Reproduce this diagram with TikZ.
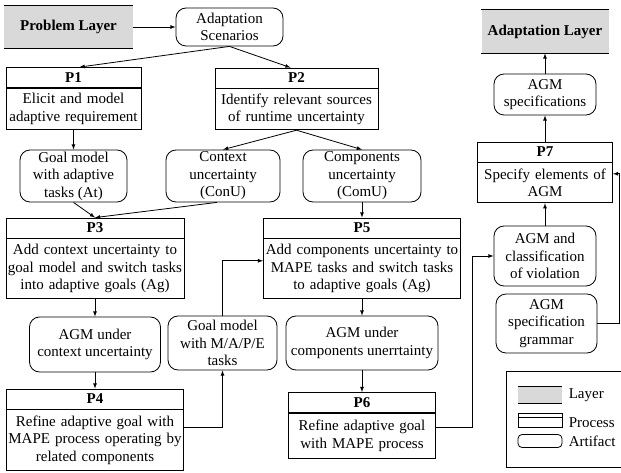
\documentclass[tikz,border=0pt]{standalone}
\usepackage{fontspec}
\setmainfont{Liberation Serif}
\usepackage{tikz}
\usetikzlibrary{positioning}

\newcommand{\diagfont}{\fontsize{15}{17.5}\selectfont}

\begin{document}
\begin{tikzpicture}[>=latex, line width=0.8pt, x=1pt, y=-1pt, font=\diagfont,
        layer/.style={fill=black!15, minimum width=#1, minimum height=42pt, inner sep=0pt,
            font=\diagfont\bfseries,
            append after command={(\tikzlastnode.north west) edge (\tikzlastnode.north east)
                (\tikzlastnode.south west) edge (\tikzlastnode.south east)}},
        artifact/.style 2 args={draw, rounded corners=10pt, minimum width=#1, minimum height=#2,
            align=center, inner sep=0pt},
        head/.style={draw, minimum width=#1, minimum height=20pt, inner sep=0pt, font=\diagfont\bfseries},
        body/.style 2 args={draw, text width=#1, minimum height=#2, align=center, inner sep=0pt},
        keytext/.style={inner sep=0pt, right=6pt of #1}]
        \useasboundingbox (0, 0) rectangle (621, 473);

        % problem layer
        \node[layer=129pt] (problem) at (68.5, 27) {Problem Layer};
        \node[artifact={107pt}{38pt}] (scen) at (229.5, 27) {Adaptation\\Scenarios};
        \node[head=135pt] (p1) at (73.5, 77.5) {P1};
        \node[body={135pt}{41pt}, below=0pt of p1] (p1b) {Elicit and model\\adaptive requirement};
        \node[head=163pt] (p2) at (296.5, 78) {P2};
        \node[body={163pt}{41pt}, below=0pt of p2] (p2b) {Identify relevant sources\\of runtime uncertainty};
        \node[artifact={107pt}{52pt}] (gmat) at (73.5, 176) {Goal model\\with adaptive\\tasks (At)};
        \node[artifact={114pt}{52pt}] (conu) at (223, 176) {Context\\uncertainty\\(ConU)};
        \node[artifact={118pt}{52pt}] (comu) at (362, 176) {Components\\uncertainty\\(ComU)};
        \node[head=178pt] (p3) at (95, 228) {P3};
        \node[body={178pt}{60pt}, below=0pt of p3] (p3b) {Add context uncertainty to\\goal model and switch tasks\\into adaptive goals (Ag)};
        \node[head=197pt] (p5) at (362, 228) {P5};
        \node[body={197pt}{60pt}, below=0pt of p5] (p5b) {Add components uncertainty to\\MAPE tasks and switch tasks\\to adaptive goals (Ag)};
        \node[artifact={131pt}{55pt}] (agmcon) at (95, 344.5) {AGM under\\context uncertainty};
        \node[artifact={109pt}{54pt}] (gmmape) at (222.5, 343) {Goal model\\with M/A/P/E\\tasks};
        \node[artifact={152pt}{54pt}] (agmcom) at (362, 343) {AGM under\\components unerrtainty};
        \node[head=177pt] (p4) at (95, 399) {P4};
        \node[body={177pt}{61pt}, below=0pt of p4] (p4b) {Refine adaptive goal with\\MAPE process operating by\\related components};
        \node[head=147pt] (p6) at (362, 402.5) {P6};
        \node[body={147pt}{45pt}, below=0pt of p6] (p6b) {Refine adaptive goal\\with MAPE process};

        % adaptation layer
        \node[layer=127pt, minimum height=43pt] (adapt) at (545, 31.5) {Adaptation Layer};
        \node[artifact={102pt}{41pt}] (agmspec) at (545, 94.5) {AGM\\specifications};
        \node[head=135pt] (p7) at (545, 152) {P7};
        \node[body={135pt}{40pt}, below=0pt of p7] (p7b) {Specify elements of\\AGM};
        \node[artifact={102pt}{60pt}] (agmclass) at (545, 256) {AGM and\\classification\\of violation};
        \node[artifact={101pt}{59pt}] (grammar) at (546.5, 323.5) {AGM\\specification\\grammar};

        \draw[->] (problem) -- (scen);
        \draw[->] (scen.south) -- ([xshift=6pt]p1.north);
        \draw[->] (scen.south) -- ([xshift=-6pt]p2.north);
        \draw[->] (p1b) -- (gmat);
        \draw[->] (p2b.south) -- (conu.north);
        \draw[->] (p2b.south) -- (comu.north);
        \draw[->] (gmat.south) -- (p3.north);
        \draw[->] ([xshift=-6pt]conu.south) -- (p3.north);
        \draw[->] (comu) -- (p5);
        \draw[->] (p3b) -- (agmcon);
        \draw[->] (p5b) -- (agmcom);
        \draw[->] (agmcon) -- (p4);
        \draw[->] (agmcom) -- (p6);
        \draw[->] ([yshift=12.5pt]p4b.east) -| (gmmape.south);
        \draw[->] (gmmape.north) |- ([yshift=8pt]p5b.west);
        \draw[->] ([yshift=8.5pt]p6b.east) -- ++(36, 0) |- (agmclass.west);
        \draw[->] (agmclass) -- (p7b);
        \draw[->] (p7) -- (agmspec);
        \draw[->] (agmspec) -- (adapt);
        \draw[->] (grammar.east) -- ++(22, 0) |- ([yshift=9pt]p7b.east);

        % legend
        \draw (506, 371) rectangle (630, 467);
        \node[layer=44pt, minimum height=16pt] (klayer) at (540, 395) {};
        \node[keytext=klayer] {Layer};
        \node[head=44pt, minimum height=4pt] (kproc) at (540, 415) {};
        \node[body={44pt}{10pt}, below=0pt of kproc] (kprocb) {};
        \node[keytext=kprocb] {Process};
        \node[artifact={44pt}{13pt}, rounded corners=4pt] (kart) at (540, 441) {};
        \node[keytext=kart] {Artifact};
    \end{tikzpicture}
\end{document}
